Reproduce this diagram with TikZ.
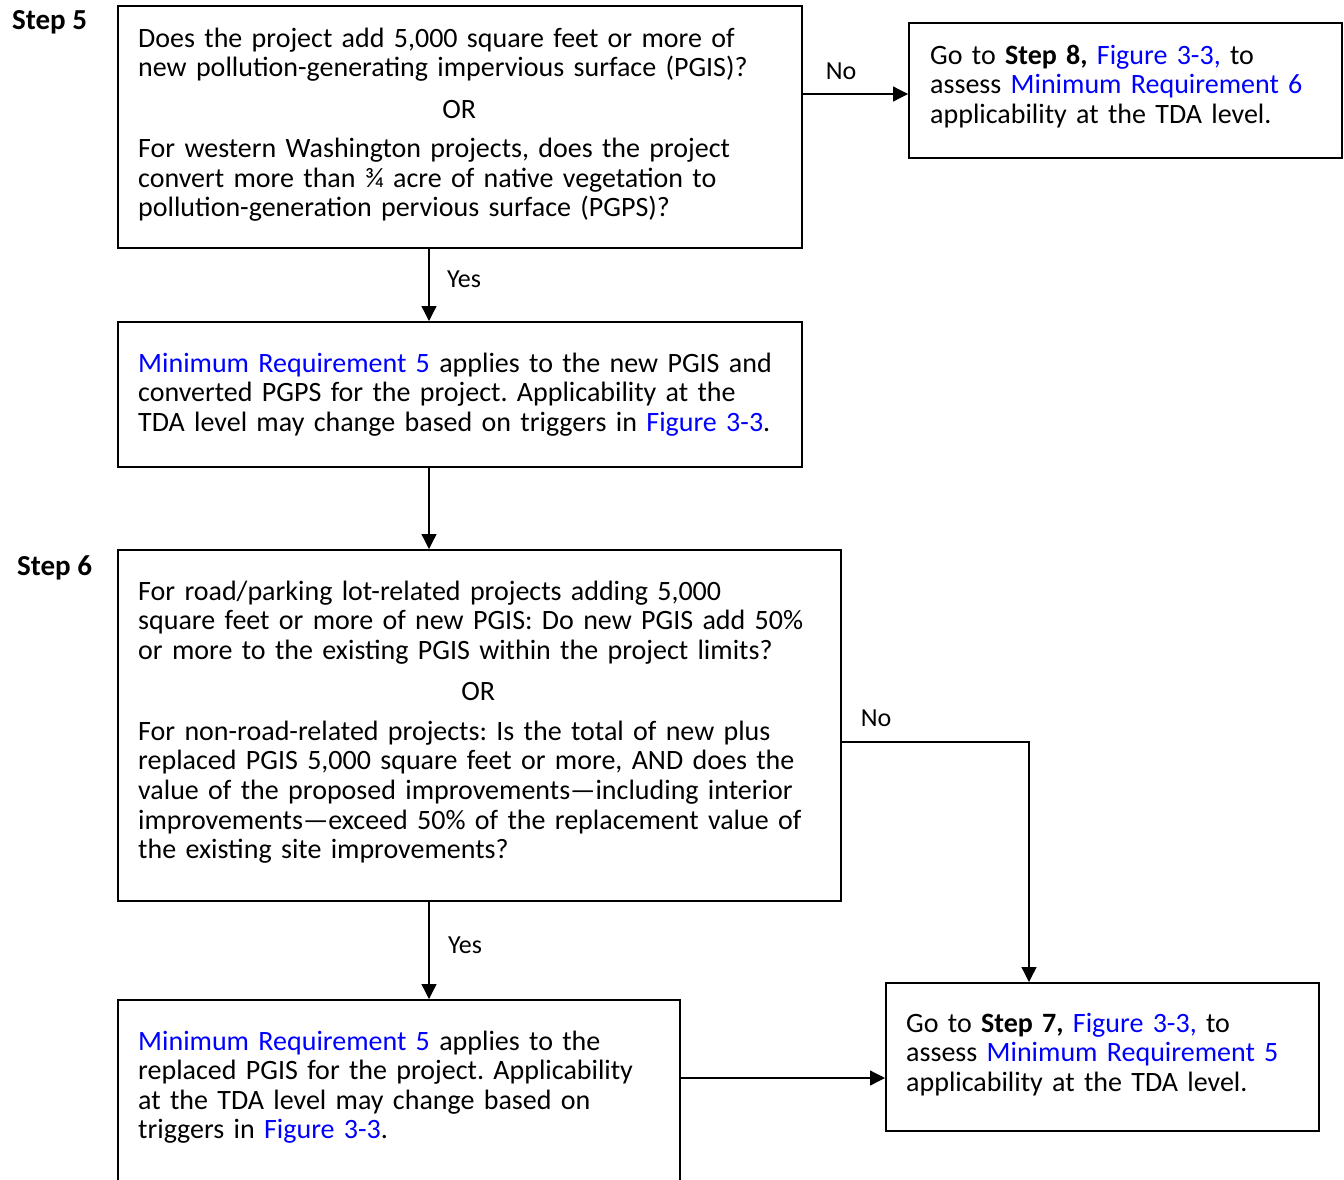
\documentclass[tikz,border=0pt]{standalone}
\usepackage{fontspec}
\setmainfont{Carlito}
\usetikzlibrary{arrows.meta}
\definecolor{linkblue}{RGB}{0,0,255}
\newcommand{\lnk}[1]{\textcolor{linkblue}{#1}}
\frenchspacing
\begin{document}
\begin{tikzpicture}[x=1pt,y=-1pt,
  box/.style={draw=black,line width=1.6pt,anchor=north west,inner sep=0pt,fill=white},
  txt/.style={anchor=base west,inner sep=0pt,align=left,text width=820pt,font=\fontsize{28}{29.6}\selectfont\frenchspacing},
  lbl/.style={anchor=base,inner sep=0pt,font=\fontsize{26}{28}\selectfont},
  steplbl/.style={anchor=base west,inner sep=0pt,font=\fontsize{29}{30}\selectfont\bfseries},
  arr/.style={line width=1.3pt,-{Triangle[length=15pt,width=15pt]}},
  ln/.style={line width=1.3pt}]
\useasboundingbox[fill=white] (0,0) rectangle (1344,1179);

% boxes
\node[box,minimum width=684pt,minimum height=242pt] (q1) at (117,5) {};
\node[box,minimum width=433pt,minimum height=135pt] (step8) at (908,22) {};
\node[box,minimum width=684pt,minimum height=145pt] (mr5a) at (117,321) {};
\node[box,minimum width=723pt,minimum height=351pt] (q2) at (117,549) {};
\node[box,minimum width=562pt,minimum height=230pt] (mr5b) at (117,999) {};
\node[box,minimum width=433pt,minimum height=148pt] (step7) at (885,982) {};

% step labels
\node[steplbl] (s5) at (12,29) {Step 5};
\node[steplbl] (s6) at (17,575) {Step 6};

% texts
\node[txt] (q1t) at (138,47) {Does the project add 5,000 square feet or more of\\
new pollution-generating impervious surface (PGIS)?\\[12.4pt]
\makebox[642pt]{OR}\\[9.4pt]
For western Washington projects, does the project\\
convert more than ¾ acre of native vegetation to\\
pollution-generation pervious surface (PGPS)?};

\node[txt] (step8t) at (930,64) {Go to \textbf{Step 8,} \lnk{Figure 3-3,} to\\
assess \lnk{Minimum Requirement 6}\\
applicability at the TDA level.};

\node[txt] (mr5at) at (138,372) {\lnk{Minimum Requirement 5} applies to the new PGIS and\\
converted PGPS for the project. Applicability at the\\
TDA level may change based on triggers in \lnk{Figure 3-3}.};

\node[txt] (q2t) at (138,600) {For road/parking lot-related projects adding 5,000\\
square feet or more of new PGIS: Do new PGIS add 50\%\\
or more to the existing PGIS within the project limits?\\[11.4pt]
\makebox[680pt]{OR}\\[10.4pt]
For non-road-related projects: Is the total of new plus\\
replaced PGIS 5,000 square feet or more, AND does the\\
value of the proposed improvements—including interior\\
improvements—exceed 50\% of the replacement value of\\
the existing site improvements?};

\node[txt] (mr5bt) at (138,1050) {\lnk{Minimum Requirement 5} applies to the\\
replaced PGIS for the project. Applicability\\
at the TDA level may change based on\\
triggers in \lnk{Figure 3-3}.};

\node[txt] (step7t) at (906,1032) {Go to \textbf{Step 7,} \lnk{Figure 3-3,} to\\
assess \lnk{Minimum Requirement 5}\\
applicability at the TDA level.};

% connectors
\draw[arr] (429,0 |- q1.south) -- (429,0 |- mr5a.north);
\draw[arr] (q1.east |- 0,94) -- (step8.west |- 0,94);
\draw[arr] (429,0 |- mr5a.south) -- (429,0 |- q2.north);
\draw[arr] (q2.east |- 0,742) -| (1029,0 |- step7.north);
\draw[arr] (429,0 |- q2.south) -- (429,0 |- mr5b.north);
\draw[arr] (mr5b.east |- 0,1078) -- (step7.west |- 0,1078);

% connector labels
\node[lbl] (no1) at (841,79) {No};
\node[lbl] (yes1) at (464,287) {Yes};
\node[lbl] (no2) at (876,726) {No};
\node[lbl] (yes2) at (465,953) {Yes};
\end{tikzpicture}
\end{document}
